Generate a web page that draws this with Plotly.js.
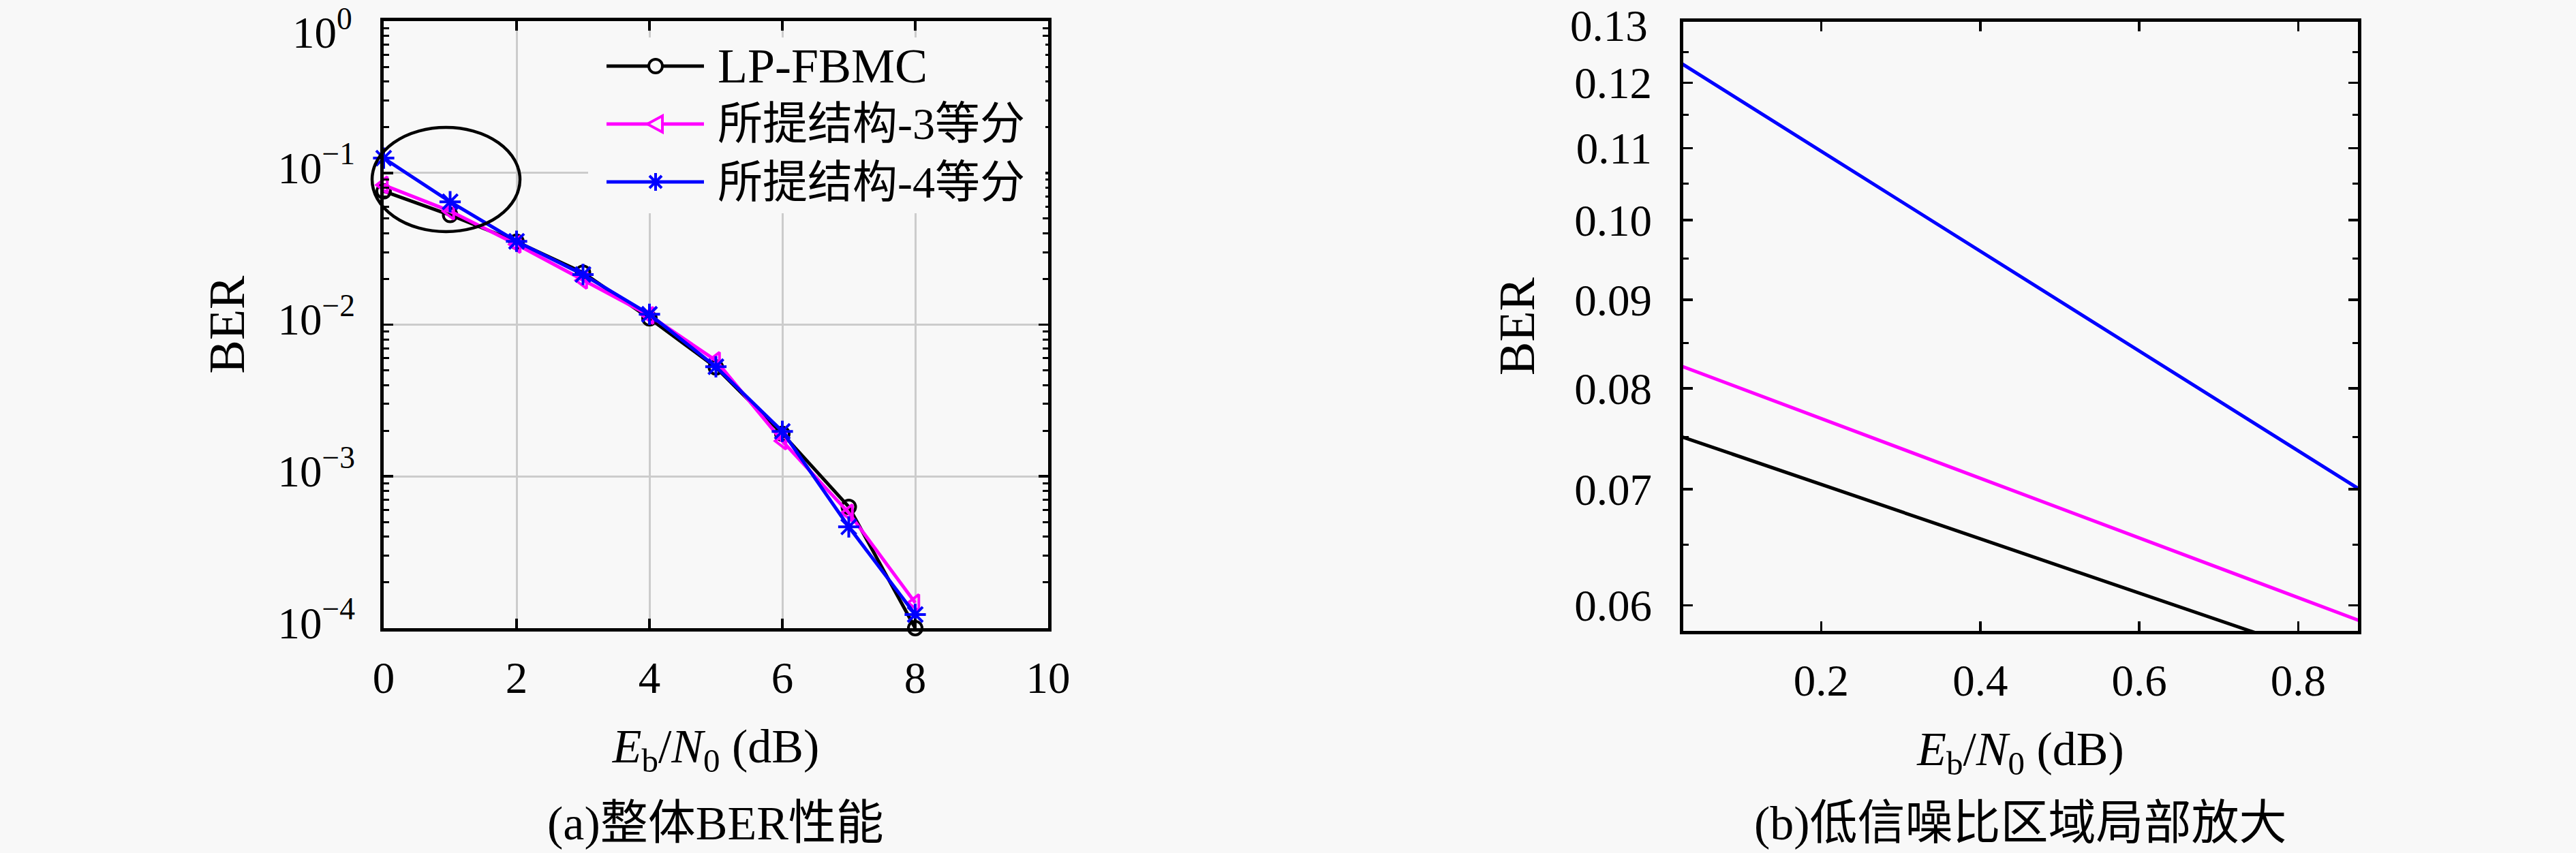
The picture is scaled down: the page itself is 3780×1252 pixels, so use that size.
<!DOCTYPE html>
<html>
<head>
<meta charset="utf-8">
<script src="https://cdn.plot.ly/plotly-3.0.1.min.js"></script>
<style>html,body{margin:0;padding:0;background:#f8f8f8;}</style>
</head>
<body>
<div id="chart" style="width:3780px;height:1252px;"></div>
<script>
// ---- data ----
const snrDb = [0, 1, 2, 3, 4, 5, 6, 7, 8];
const berLPFBMC = [0.0757, 0.0528, 0.0352, 0.0220, 0.0110, 0.00523, 0.00191, 0.000630, 0.000100];
const berProp3 = [0.0832, 0.0560, 0.0338, 0.0196, 0.0115, 0.00580, 0.00171, 0.000575, 0.000147];
const berProp4 = [0.1251, 0.0645, 0.0354, 0.0214, 0.0117, 0.00528, 0.00198, 0.000465, 0.000123];
const seriesNames = ['LP-FBMC', '所提结构-3等分', '所提结构-4等分'];
const seriesColors = ['#000000', '#ff00ff', '#0000ff'];
const seriesSymbols = ['circle-open', 'triangle-left-open', 'asterisk-open'];
const seriesMarkerSizes = [20, 21, 26];

const leftXTicks = [0, 2, 4, 6, 8, 10];
const leftYTicks = [1e-4, 1e-3, 1e-2, 1e-1, 1];
const leftYTickText = ['10<sup>−4</sup>', '10<sup>−3</sup>', '10<sup>−2</sup>', '10<sup>−1</sup>', '10<sup>0</sup>'];
const rightXTicks = [0.2, 0.4, 0.6, 0.8];
const rightXTickText = ['0.2', '0.4', '0.6', '0.8'];
const rightYTicks = [0.06, 0.07, 0.08, 0.09, 0.10, 0.11, 0.12, 0.13];
const rightYTickText = ['0.06', '0.07', '0.08', '0.09', '0.10', '0.11', '0.12', '0.13'];
const rightYMinor = [0.065, 0.075, 0.085, 0.095, 0.105, 0.115, 0.125];
const xTitle = '<i>E</i><sub>b</sub>/<i>N</i><sub>0</sub> (dB)';
const yTitle = 'BER';
const subTitles = ['(a)整体BER性能', '(b)低信噪比区域局部放大'];

// minor tick positions for the log axis (2..9 per decade)
const leftYMinor = [];
for (let e = -4; e < 0; e++) for (let m = 2; m <= 9; m++) leftYMinor.push(m * Math.pow(10, e));

const W = 3780, H = 1252;
const FONT = 'Liberation Serif, Noto Sans CJK SC, serif';
const TICK = 65;
const serData = [berLPFBMC, berProp3, berProp4];

const traces = [];
serData.forEach((ys, i) => {
  traces.push({
    x: snrDb, y: ys, name: seriesNames[i], type: 'scatter', mode: 'lines+markers',
    xaxis: 'x', yaxis: 'y', cliponaxis: false, showlegend: false,
    line: {color: seriesColors[i], width: 5},
    marker: {symbol: seriesSymbols[i], size: seriesMarkerSizes[i], color: seriesColors[i], line: {color: seriesColors[i], width: 4}}
  });
});
serData.forEach((ys, i) => {
  traces.push({
    x: snrDb, y: ys, name: seriesNames[i], type: 'scatter', mode: 'lines',
    xaxis: 'x2', yaxis: 'y2', showlegend: false,
    line: {color: seriesColors[i], width: 5}
  });
});

const px = v => v / W, py = v => 1 - v / H;

const axisCommon = {
  showline: true, linewidth: 5, linecolor: '#000', mirror: 'ticks',
  ticks: 'inside', ticklen: 14, tickwidth: 3.5, tickcolor: '#000',
  zeroline: false, tickfont: {size: TICK, family: FONT, color: '#000'},
  automargin: false, ticklabeloverflow: 'allow'
};

// the top-most tick labels sit just below the image edge, as in the original
const leftYAxisText = leftYTickText.map((t, i) => i === leftYTickText.length - 1 ? '' : t);
const rightYAxisText = rightYTickText.map((t, i) => i === rightYTickText.length - 1 ? '' : t);

// ---- hand-made legend (long line samples like the original) ----
const legendRowsY = [97, 182, 267];
const legendSizes = [72, 66, 66];
const legX0 = 890, legX1 = 1033, legMid = 962, legText = 1051;
const shapes = [
  {type: 'rect', xref: 'paper', yref: 'paper', x0: px(863), x1: px(1534), y0: py(313), y1: py(55),
   fillcolor: '#f8f8f8', line: {width: 0}, layer: 'above'},
  {type: 'circle', xref: 'paper', yref: 'paper', x0: px(546), x1: px(763), y0: py(340), y1: py(187),
   line: {color: '#000', width: 4.5}, fillcolor: 'rgba(0,0,0,0)', layer: 'above'}
];
const annotations = [];
legendRowsY.forEach((ry, i) => {
  const c = seriesColors[i];
  shapes.push({type: 'line', xref: 'paper', yref: 'paper', x0: px(legX0), x1: px(legX1), y0: py(ry), y1: py(ry),
    line: {color: c, width: 5}, layer: 'above'});
  if (i === 0) {
    shapes.push({type: 'circle', xref: 'paper', yref: 'paper', x0: px(legMid - 10), x1: px(legMid + 10), y0: py(ry + 10), y1: py(ry - 10),
      line: {color: c, width: 4}, fillcolor: '#f8f8f8', layer: 'above'});
  } else if (i === 1) {
    shapes.push({type: 'path', xref: 'paper', yref: 'paper',
      path: `M ${px(legMid - 12)} ${py(ry)} L ${px(legMid + 10)} ${py(ry - 12)} L ${px(legMid + 10)} ${py(ry + 12)} Z`,
      line: {color: c, width: 4}, fillcolor: '#f8f8f8', layer: 'above'});
  } else {
    const r = 13, d = 9;
    shapes.push({type: 'path', xref: 'paper', yref: 'paper',
      path: `M ${px(legMid)} ${py(ry - r)} L ${px(legMid)} ${py(ry + r)} ` +
            `M ${px(legMid - r)} ${py(ry)} L ${px(legMid + r)} ${py(ry)} ` +
            `M ${px(legMid - d)} ${py(ry - d)} L ${px(legMid + d)} ${py(ry + d)} ` +
            `M ${px(legMid - d)} ${py(ry + d)} L ${px(legMid + d)} ${py(ry - d)}`,
      line: {color: c, width: 4}, layer: 'above'});
  }
  annotations.push({text: seriesNames[i], xref: 'paper', yref: 'paper', x: px(legText), y: py(ry),
    xanchor: 'left', yanchor: 'middle', showarrow: false, font: {size: legendSizes[i], family: FONT, color: '#000'}});
});
annotations.push(
  {text: leftYTickText[leftYTickText.length - 1], xref: 'paper', yref: 'paper', x: px(519), y: 1,
   xanchor: 'right', yanchor: 'top', showarrow: false, font: {size: TICK, family: FONT, color: '#000'}},
  {text: rightYTickText[rightYTickText.length - 1], xref: 'paper', yref: 'paper', x: px(2420), y: 1,
   xanchor: 'right', yanchor: 'top', showarrow: false, font: {size: TICK, family: FONT, color: '#000'}},
  {text: subTitles[0], xref: 'paper', yref: 'paper', x: px(1050), y: py(1208), xanchor: 'center', yanchor: 'middle', showarrow: false, font: {size: 70, family: FONT}},
  {text: subTitles[1], xref: 'paper', yref: 'paper', x: px(2965), y: py(1208), xanchor: 'center', yanchor: 'middle', showarrow: false, font: {size: 70, family: FONT}}
);

const layout = {
  width: W, height: H,
  paper_bgcolor: '#f8f8f8', plot_bgcolor: '#f8f8f8',
  margin: {l: 0, r: 0, t: 0, b: 0, pad: 0},
  font: {family: FONT, size: TICK, color: '#000'},
  showlegend: false,
  xaxis: Object.assign({}, axisCommon, {
    domain: [px(563), px(1538)], anchor: 'y', range: [0, 10],
    tickmode: 'array', tickvals: leftXTicks,
    showgrid: true, gridcolor: '#cccccc', gridwidth: 3,
    ticklabelstandoff: 12,
    title: {text: xTitle, font: {size: 70, family: FONT}, standoff: 41}
  }),
  yaxis: Object.assign({}, axisCommon, {
    domain: [py(922), py(31)], anchor: 'x', type: 'log', range: [-4.0002, 0.0002],
    tickmode: 'array', tickvals: leftYTicks, ticktext: leftYAxisText,
    showgrid: true, gridcolor: '#cccccc', gridwidth: 3,
    ticklabelstandoff: 24, ticklabelshift: -8,
    minor: {tickmode: 'array', tickvals: leftYMinor, ticks: 'inside', ticklen: 8, tickwidth: 3, tickcolor: '#000', showgrid: false},
    title: {text: yTitle, font: {size: 74, family: FONT}, standoff: 26}
  }),
  xaxis2: Object.assign({}, axisCommon, {
    domain: [px(2470), px(3460)], anchor: 'y2', range: [0.0265, 0.875],
    tickmode: 'array', tickvals: rightXTicks, ticktext: rightXTickText,
    showgrid: false, ticklabelstandoff: 12,
    title: {text: xTitle, font: {size: 70, family: FONT}, standoff: 41}
  }),
  yaxis2: Object.assign({}, axisCommon, {
    domain: [py(926), py(32)], anchor: 'x2', type: 'log',
    range: [Math.log10(0.058), Math.log10(0.1301)],
    tickmode: 'array', tickvals: rightYTicks, ticktext: rightYAxisText,
    showgrid: false, ticklabelstandoff: 28,
    minor: {tickmode: 'array', tickvals: rightYMinor, ticks: 'inside', ticklen: 8, tickwidth: 3, tickcolor: '#000', showgrid: false},
    title: {text: yTitle, font: {size: 74, family: FONT}, standoff: 36}
  }),
  shapes: shapes,
  annotations: annotations
};

Plotly.newPlot('chart', traces, layout, {staticPlot: true, displayModeBar: false});
</script>
</body>
</html>
